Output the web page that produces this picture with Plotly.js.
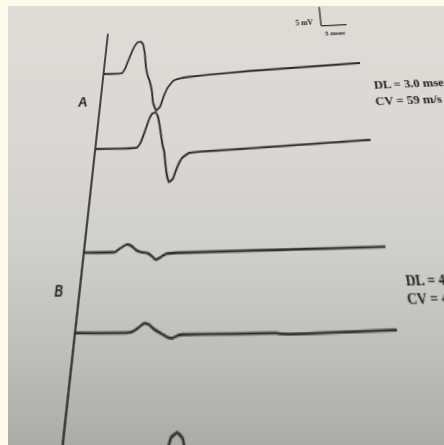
<!DOCTYPE html>
<html><head><meta charset="utf-8">
<script src="https://cdn.plot.ly/plotly-3.0.1.min.js"></script>
<style>
html,body{margin:0;padding:0;width:444px;height:445px;overflow:hidden;background:#fdfaea;}
#photo{position:absolute;left:8px;top:6px;right:0;bottom:0;
 background:linear-gradient(to bottom,#dddcd7 0%,#d9d8d4 30%,#cfcfcb 55%,#bdbdba 80%,#ababa8 100%);}
#chart{position:absolute;left:0;top:0;width:444px;height:445px;transform-origin:0 0;}
</style></head><body>
<div id="photo"></div>
<div id="chart"></div>
<script>
// ---- waveform data: time (msec) and amplitude (mV) ----
const tA1 = [0, 3.7, 4.3, 5.0, 5.7, 6.3, 7.0, 7.5, 8.0, 8.5, 9.0, 9.3, 9.9, 10.3, 11.0, 11.7, 12.3, 13.0, 14.0, 15.3, 17.0, 22.0, 28.7, 50];
const vA1 = [0, 0, 1.2, 4.0, 6.4, 7.6, 7.8, 7.1, 4.7, 0.9, -1.2, -2.0, -4.5, -7.4, -9.2, -8.3, -5.9, -3.9, -2.4, -1.9, -1.6, -1.2, -0.8, 0];
const tA2 = [0, 7.8, 8.4, 9.1, 9.7, 10.3, 10.9, 11.4, 11.9, 12.3, 12.6, 12.9, 13.2, 13.6, 14.0, 14.7, 15.3, 16.2, 17.5, 19.7, 26.2, 50];
const vA2 = [0, 0, 1.0, 3.5, 6.0, 7.4, 7.6, 6.6, 4.1, 1.6, 0.1, -1.0, -3.5, -6.0, -7.3, -6.7, -4.6, -2.5, -1.5, -1.3, -1.05, 0];
const tB1 = [0, 5.4, 6.0, 7.2, 8.0, 8.9, 9.7, 10.9, 11.7, 12.3, 13.2, 14.0, 15.7, 50];
const vB1 = [0, 0, 0.5, 1.3, 1.1, 0.3, -0.1, -0.3, -0.9, -1.5, -1.05, -0.5, -0.36, 0];
const tB2 = [0, 8.9, 9.7, 11.0, 11.8, 12.6, 13.7, 14.8, 15.6, 16.4, 17.2, 20.7, 31.7, 32.5, 36.3, 50];
const vB2 = [0, 0, 0.4, 1.4, 1.2, 0.5, -0.15, -0.8, -0.95, -0.55, -0.4, -0.37, -0.3, -0.45, -0.45, 0];
const tC  = [0, 13.6, 14.4, 15.2, 15.9, 16.8, 17.6, 18.2, 18.8, 19.3, 19.8, 20.4, 21.0, 21.8, 22.6, 23.6, 25, 28.5, 33, 40, 50];
const vC  = [0, 0, 1.5, 5.5, 8.3, 9.0, 8.2, 5.0, 0.5, -1.2, -2.8, -7, -8.8, -7.2, -3.5, -2.3, -1.8, -1.5, -1.1, -0.7, 0];
const labels = ['A', 'B'];
const resultsA = ['DL = 3.0 msec', 'CV = 59 m/s'];
const resultsB = ['DL = 4.6 msec', 'CV = 41 m/s'];
const scaleMV = 5, scaleMS = 5, sweep = 50;

// ---- layout constants ----
const W = 444, H = 445;
const XR = [-20.6, 68.2], YR = [-91.1, 18.47];
const OFF = {A1: 0, A2: -17.2, B1: -37.5, B2: -51.0, C: -74.5};
const INK = '#2b2b2b';

function trace(t, v, off) {
  return {type: 'scatter', mode: 'lines', x: t, y: v.map(a => a + off),
    line: {color: INK, width: 1.8, shape: 'spline', smoothing: 0.3}, hoverinfo: 'skip'};
}
const data = [trace(tA1, vA1, OFF.A1), trace(tA2, vA2, OFF.A2), trace(tB1, vB1, OFF.B1),
              trace(tB2, vB2, OFF.B2), trace(tC, vC, OFF.C)];

const sbX = 43.4, sbY = 9.7;
const shapes = [
  {type: 'line', x0: 0, x1: 0, y0: 10.3, y1: -100, line: {color: INK, width: 1.7}},
  {type: 'line', x0: sbX, x1: sbX, y0: sbY, y1: sbY + scaleMV, line: {color: INK, width: 1.3}},
  {type: 'line', x0: sbX, x1: sbX + scaleMS, y0: sbY, y1: sbY, line: {color: INK, width: 1.3}}
];
const serif = 'Liberation Serif, Times New Roman, serif';
const sans = 'Liberation Sans, Arial, sans-serif';
function ann(x, y, text, size, fam, xa) {
  return {x: x, y: y, xref: 'x', yref: 'y', text: '<b>' + text + '</b>', showarrow: false,
    xanchor: xa || 'left', yanchor: 'middle', font: {family: fam, size: size, color: '#1e1e1e'}};
}
const annotations = [
  ann(-3.36, -6.55, labels[0], 13, sans, 'center'),
  ann(-3.47, -44.08, labels[1], 10, sans, 'center'),
  ann(51.6, -5.27, resultsA[0], 11.4, serif),
  ann(51.4, -8.8, resultsA[1], 11.4, serif),
  ann(52.0, -43.3, resultsB[0], 10.5, serif),
  ann(51.7, -46.1, resultsB[1], 10.5, serif),
  ann(42.4, 10.8, scaleMV + ' mV', 7.5, serif, 'right'),
  ann(45.9, 7.7, scaleMS + ' msec', 7, serif, 'center')
];

const layout = {
  width: W, height: H, margin: {l: 0, r: 0, t: 0, b: 0},
  paper_bgcolor: 'rgba(0,0,0,0)', plot_bgcolor: 'rgba(0,0,0,0)', showlegend: false,
  xaxis: {range: XR, visible: false, fixedrange: true},
  yaxis: {range: YR, visible: false, fixedrange: true},
  shapes: shapes, annotations: annotations
};

// ---- photo perspective (flat page -> camera view) ----
function fx(t) { return (t - XR[0]) / (XR[1] - XR[0]) * W; }
function fy(v) { return (YR[1] - v) / (YR[1] - YR[0]) * H; }
const src = [[fx(0), fy(OFF.A1)], [fx(sweep), fy(OFF.A1)], [fx(sweep), fy(OFF.B2)], [fx(0), fy(OFF.B2)]];
const dst = [[103.5, 74], [360, 63], [397, 330], [75, 333]];
function solve(A, b) {
  const n = b.length;
  for (let i = 0; i < n; i++) {
    let p = i;
    for (let r = i + 1; r < n; r++) if (Math.abs(A[r][i]) > Math.abs(A[p][i])) p = r;
    [A[i], A[p]] = [A[p], A[i]]; [b[i], b[p]] = [b[p], b[i]];
    for (let r = i + 1; r < n; r++) {
      const f = A[r][i] / A[i][i];
      for (let c = i; c < n; c++) A[r][c] -= f * A[i][c];
      b[r] -= f * b[i];
    }
  }
  const x = new Array(n).fill(0);
  for (let i = n - 1; i >= 0; i--) {
    let s = b[i];
    for (let c = i + 1; c < n; c++) s -= A[i][c] * x[c];
    x[i] = s / A[i][i];
  }
  return x;
}
const A = [], b = [];
for (let i = 0; i < 4; i++) {
  const [X, Y] = src[i], [x, y] = dst[i];
  A.push([X, Y, 1, 0, 0, 0, -x * X, -x * Y]); b.push(x);
  A.push([0, 0, 0, X, Y, 1, -y * X, -y * Y]); b.push(y);
}
const h = solve(A, b);
const el = document.getElementById('chart');
el.style.transform = `matrix3d(${h[0]},${h[3]},0,${h[6]},${h[1]},${h[4]},0,${h[7]},0,0,1,0,${h[2]},${h[5]},0,1)`;

Plotly.newPlot(el, data, layout, {staticPlot: true, displayModeBar: false});
</script>
</body></html>
